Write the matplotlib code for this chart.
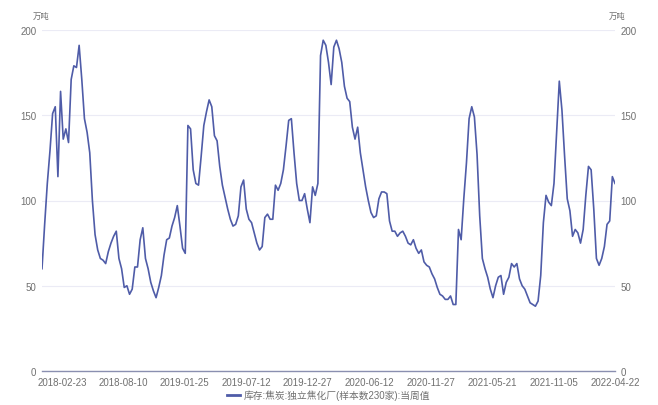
import numpy as np
import matplotlib
matplotlib.use("Agg")
import matplotlib.pyplot as plt

plt.rcParams['font.family'] = ['Liberation Sans', 'Noto Sans CJK SC', 'DejaVu Sans']

# weekly values, 2018-02-23 .. 2022-04-22 (万吨)
vals = [
    60, 86, 110, 129, 151, 155, 114, 164, 136, 142,
    134, 171, 179, 178, 191, 171, 148, 140, 128, 100,
    80, 71, 66, 65, 63, 70, 75, 79, 82, 66,
    60, 49, 50, 45, 48, 61, 61, 77, 84, 66,
    60, 52, 47, 43, 49, 56, 68, 77, 78, 85,
    90, 97, 85, 72, 69, 144, 142, 118, 110, 109,
    126, 144, 152, 159, 155, 138, 135, 120, 109, 102,
    95, 89, 85, 86, 91, 108, 112, 95, 89, 87,
    81, 75, 71, 73, 90, 92, 89, 89, 109, 106,
    110, 118, 132, 147, 148, 128, 110, 100, 100, 104,
    95, 87, 108, 103, 110, 185, 194, 191, 181, 168,
    190, 194, 189, 181, 167, 160, 158, 143, 136, 143,
    128, 118, 108, 100, 93, 90, 91, 101, 105, 105,
    104, 88, 82, 82, 79, 81, 82, 79, 75, 74,
    77, 72, 69, 71, 64, 62, 61, 57, 54, 49,
    45, 44, 42, 42, 44, 39, 39, 83, 77, 101,
    122, 148, 155, 149, 127, 91, 66, 60, 55, 48,
    43, 50, 55, 56, 45, 52, 55, 63, 61, 63,
    54, 50, 48, 44, 40, 39, 38, 41, 56, 87,
    103, 99, 97, 110, 140, 170, 153, 126, 101, 94,
    79, 83, 81, 75, 83, 103, 120, 118, 95, 66,
    62, 66, 73, 86, 88, 114, 110,
]
tick_labels = ['2018-02-23', '2018-08-10', '2019-01-25', '2019-07-12', '2019-12-27',
               '2020-06-12', '2020-11-27', '2021-05-21', '2021-11-05', '2022-04-22']
series_name = '库存:焦炭:独立焦化厂(样本数230家):当周值'
unit = '万吨'

line_color = '#4f5ca8'
text_color = '#707070'

fig = plt.figure(figsize=(6.58, 4.06), dpi=100)
ax = fig.add_axes([42 / 658, 1 - 372 / 406, (615 - 42) / 658, (372 - 31) / 406])

x = np.arange(len(vals))
ax.plot(x, vals, color=line_color, lw=1.2, label=series_name)

ax.set_xlim(0, len(vals) - 1)
ax.set_ylim(0, 200)
ax.set_yticks([0, 50, 100, 150, 200])
# labels are spread evenly, the first one sits a bit inside the axis start
ax.set_xticks(np.linspace(7.5, len(vals) - 1, len(tick_labels)))
ax.set_xticklabels(tick_labels)
ax.grid(axis='y', color='#ebebf5', lw=0.8)
ax.set_axisbelow(True)
for s in ['top', 'right', 'left']:
    ax.spines[s].set_visible(False)
ax.spines['bottom'].set_color('#8a8fb0')
ax.spines['bottom'].set_linewidth(1.0)
ax.tick_params(axis='both', length=0, labelsize=7, colors=text_color, pad=4)
ax.tick_params(axis='y', labelright=True, labelleft=True, pad=4)

fig.text(41 / 658, 1 - 17 / 406, unit, ha='center', va='center', fontsize=6, color=text_color)
fig.text(617 / 658, 1 - 17 / 406, unit, ha='center', va='center', fontsize=6, color=text_color)

leg = fig.legend(loc='center', bbox_to_anchor=(0.5, 1 - 396 / 406), frameon=False,
                 fontsize=7, labelcolor=text_color, handlelength=1.3, handletextpad=0.4)
for h in leg.get_lines():
    h.set_linewidth(2)

fig.savefig('out.png', dpi=100)
